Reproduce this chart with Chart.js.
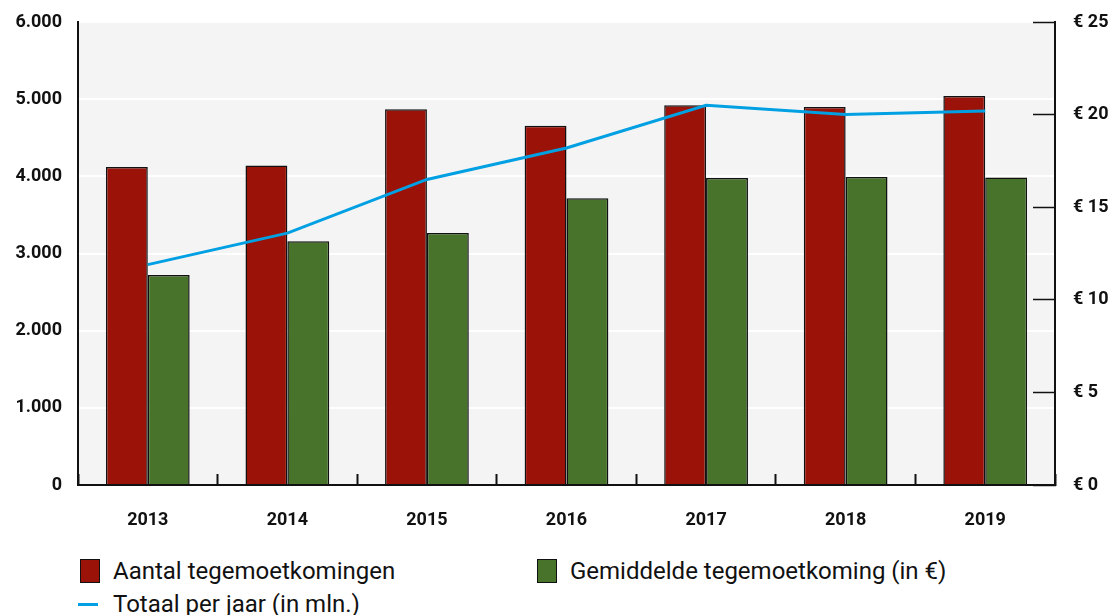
<!DOCTYPE html>
<html>
<head>
<meta charset="utf-8">
<script src="https://cdn.jsdelivr.net/npm/chart.js@4"></script>
<style>
    body { margin: 0; background: #fff; font-family: Roboto, sans-serif; }
    #wrap { position: relative; width: 1115px; height: 540px; }
    #legend { position: relative; width: 1115px; height: 75px; color: #111; font-size: 24px; }
    .item { position: absolute; display: flex; align-items: center; white-space: nowrap; }
    .box { width: 20px; height: 24px; border: 1.5px solid #111; box-sizing: border-box; margin-right: 13px; }
    .dash { width: 20px; height: 3px; margin-right: 15px; }
</style>
</head>
<body>
<div id="wrap"><canvas id="chart"></canvas></div>
<div id="legend"></div>
<script>
// data
const years = ['2013', '2014', '2015', '2016', '2017', '2018', '2019'];
const aantal = [4120, 4140, 4870, 4655, 4920, 4900, 5040];
const gemiddeld = [2720, 3160, 3265, 3715, 3980, 3990, 3985];
const totaal = [11.9, 13.6, 16.5, 18.2, 20.5, 20.0, 20.2];
const leftTicks = [0, 1000, 2000, 3000, 4000, 5000, 6000];
const rightTicks = [0, 5, 10, 15, 20, 25];

const RED = '#9b1208';
const GREEN = '#47742a';
const BLUE = '#00a0e3';

// light grey plot background
const plotBg = {
    id: 'plotBg',
    beforeDraw(chart) {
        const a = chart.chartArea;
        const ctx = chart.ctx;
        ctx.save();
        ctx.fillStyle = '#f4f4f4';
        ctx.fillRect(a.left, a.top, a.right - a.left, a.bottom - a.top);
        ctx.restore();
    }
};

function thousands(v) {
    return String(v).replace(/\B(?=(\d{3})+(?!\d))/g, '.');
}

// fixed axis widths, and drop the label padding chart.js adds above/below
function fixWidth(w) {
    return s => {
        s.width = w;
        s.paddingTop = 10;
        s.paddingBottom = 10;
    };
}

const tickFont = { family: 'Roboto', size: 18, weight: 'bold' };

const chart = new Chart(document.getElementById('chart'), {
    type: 'bar',
    data: {
        labels: years,
        datasets: [
            {
                label: 'Totaal per jaar (in mln.)',
                type: 'line',
                data: totaal,
                yAxisID: 'y1',
                borderColor: BLUE,
                borderWidth: 3,
                pointRadius: 0,
                tension: 0,
                order: 0
            },
            {
                label: 'Aantal tegemoetkomingen',
                data: aantal,
                backgroundColor: RED,
                borderColor: '#111',
                borderWidth: 1.5,
                order: 1
            },
            {
                label: 'Gemiddelde tegemoetkoming (in €)',
                data: gemiddeld,
                backgroundColor: GREEN,
                borderColor: '#111',
                borderWidth: 1.5,
                order: 1
            }
        ]
    },
    options: {
        responsive: true,
        maintainAspectRatio: false,
        animation: false,
        categoryPercentage: 0.6,
        barPercentage: 1.0,
        layout: { padding: { top: 22, left: 0, right: 0, bottom: 0 } },
        plugins: {
            legend: { display: false },
            tooltip: { enabled: false }
        },
        scales: {
            x: {
                offset: true,
                grid: {
                    offset: true,
                    drawOnChartArea: false,
                    tickLength: -11,
                    tickColor: '#111',
                    tickWidth: 2
                },
                border: { color: '#111', width: 2 },
                ticks: { color: '#111', font: tickFont, padding: 36 },
                afterFit: s => { s.height = 55; }
            },
            y: {
                position: 'left',
                min: 0,
                max: 6000,
                afterBuildTicks: s => { s.ticks = leftTicks.map(v => ({ value: v })); },
                grid: { color: '#ffffff', lineWidth: 2, drawTicks: false },
                border: { color: '#111', width: 2 },
                ticks: { color: '#111', font: tickFont, padding: 16, callback: v => thousands(v) },
                afterFit: fixWidth(78)
            },
            y1: {
                position: 'right',
                min: 0,
                max: 25,
                afterBuildTicks: s => { s.ticks = rightTicks.map(v => ({ value: v })); },
                grid: {
                    drawOnChartArea: false,
                    tickLength: -22,
                    tickColor: '#111',
                    tickWidth: 1.5
                },
                border: { color: '#111', width: 2 },
                ticks: { color: '#111', font: tickFont, padding: 40, callback: v => '€ ' + v },
                afterFit: fixWidth(60)
            }
        }
    },
    plugins: [plotBg]
});

// html legend, two columns like the original
const legendPos = [
    { ds: 1, left: 80, top: 17 },
    { ds: 2, left: 537, top: 17 },
    { ds: 0, left: 78, top: 50 }
];
const legend = document.getElementById('legend');
legendPos.forEach(p => {
    const ds = chart.data.datasets[p.ds];
    const item = document.createElement('div');
    item.className = 'item';
    item.style.left = p.left + 'px';
    item.style.top = p.top + 'px';
    const mark = document.createElement('span');
    if (ds.type === 'line') {
        mark.className = 'dash';
        mark.style.background = ds.borderColor;
    } else {
        mark.className = 'box';
        mark.style.background = ds.backgroundColor;
    }
    const txt = document.createElement('span');
    txt.textContent = ds.label;
    item.appendChild(mark);
    item.appendChild(txt);
    legend.appendChild(item);
});
</script>
</body>
</html>
